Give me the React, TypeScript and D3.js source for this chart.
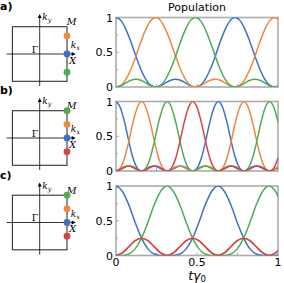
import * as d3 from "d3";

// panel a: three-level transfer
const tA = [0, 0.031, 0.061, 0.092, 0.123, 0.153, 0.184, 0.214, 0.245, 0.276, 0.306, 0.337, 0.368, 0.398, 0.429, 0.459, 0.49, 0.521, 0.551, 0.582, 0.613, 0.643, 0.674, 0.704, 0.735, 0.766, 0.796, 0.827, 0.858, 0.888, 0.919, 0.949, 0.98, 1.011];
const blueA = [1, 0.955, 0.829, 0.648, 0.444, 0.256, 0.111, 0.026, 0, 0.019, 0.06, 0.096, 0.111, 0.096, 0.06, 0.019, 0, 0.026, 0.111, 0.256, 0.444, 0.648, 0.829, 0.955, 1, 0.955, 0.829, 0.648, 0.444, 0.256, 0.111, 0.026, 0, 0.019];
const orangeA = [0, 0.026, 0.111, 0.256, 0.444, 0.648, 0.829, 0.955, 1, 0.955, 0.829, 0.648, 0.444, 0.256, 0.111, 0.026, 0, 0.019, 0.06, 0.096, 0.111, 0.096, 0.06, 0.019, 0, 0.026, 0.111, 0.256, 0.444, 0.648, 0.829, 0.955, 1, 0.955];
const greenA = [0, 0.019, 0.06, 0.096, 0.111, 0.096, 0.06, 0.019, 0, 0.026, 0.111, 0.256, 0.444, 0.648, 0.829, 0.955, 1, 0.955, 0.829, 0.648, 0.444, 0.256, 0.111, 0.026, 0, 0.019, 0.06, 0.096, 0.111, 0.096, 0.06, 0.019, 0, 0.026];

// panel b: four-level cyclic transfer
const tB = [0, 0.026, 0.053, 0.079, 0.105, 0.132, 0.158, 0.184, 0.211, 0.237, 0.263, 0.29, 0.316, 0.342, 0.369, 0.395, 0.421, 0.448, 0.474, 0.5, 0.527, 0.553, 0.579, 0.606, 0.632, 0.658, 0.685, 0.711, 0.737, 0.764, 0.79, 0.816, 0.843, 0.869, 0.895, 0.922, 0.948, 0.974, 1];
const blueB = [1, 0.917, 0.7, 0.427, 0.188, 0.042, 0, 0.025, 0.063, 0.073, 0.05, 0.016, 0, 0.016, 0.05, 0.073, 0.063, 0.025, 0, 0.042, 0.188, 0.427, 0.7, 0.917, 1, 0.917, 0.7, 0.427, 0.188, 0.042, 0, 0.025, 0.063, 0.073, 0.05, 0.016, 0, 0.016, 0.05];
const orangeB = [0, 0.042, 0.188, 0.427, 0.7, 0.917, 1, 0.917, 0.7, 0.427, 0.188, 0.042, 0, 0.025, 0.063, 0.073, 0.05, 0.016, 0, 0.016, 0.05, 0.073, 0.063, 0.025, 0, 0.042, 0.188, 0.427, 0.7, 0.917, 1, 0.917, 0.7, 0.427, 0.188, 0.042, 0, 0.025, 0.063];
const greenB = [0, 0.016, 0.05, 0.073, 0.063, 0.025, 0, 0.042, 0.188, 0.427, 0.7, 0.917, 1, 0.917, 0.7, 0.427, 0.188, 0.042, 0, 0.025, 0.063, 0.073, 0.05, 0.016, 0, 0.016, 0.05, 0.073, 0.063, 0.025, 0, 0.042, 0.188, 0.427, 0.7, 0.917, 1, 0.917, 0.7];
const redB = [0, 0.025, 0.063, 0.073, 0.05, 0.016, 0, 0.016, 0.05, 0.073, 0.063, 0.025, 0, 0.042, 0.188, 0.427, 0.7, 0.917, 1, 0.917, 0.7, 0.427, 0.188, 0.042, 0, 0.025, 0.063, 0.073, 0.05, 0.016, 0, 0.016, 0.05, 0.073, 0.063, 0.025, 0, 0.042, 0.188];

// panel c: blue <-> green with orange/red in between
const tC = [0, 0.039, 0.079, 0.118, 0.158, 0.197, 0.236, 0.276, 0.315, 0.354, 0.394, 0.433, 0.473, 0.512, 0.551, 0.591, 0.63, 0.669, 0.709, 0.748, 0.788, 0.827, 0.866, 0.906, 0.945, 0.984, 1.024];
const blueC = [1, 0.925, 0.729, 0.478, 0.25, 0.095, 0.021, 0.001, 0, 0.001, 0.021, 0.095, 0.25, 0.478, 0.729, 0.925, 1, 0.925, 0.729, 0.478, 0.25, 0.095, 0.021, 0.001, 0, 0.001, 0.021];
const orangeC = [0, 0.037, 0.125, 0.213, 0.25, 0.213, 0.125, 0.037, 0, 0.037, 0.125, 0.213, 0.25, 0.213, 0.125, 0.037, 0, 0.037, 0.125, 0.213, 0.25, 0.213, 0.125, 0.037, 0, 0.037, 0.125];
const greenC = [0, 0.001, 0.021, 0.095, 0.25, 0.478, 0.729, 0.925, 1, 0.925, 0.729, 0.478, 0.25, 0.095, 0.021, 0.001, 0, 0.001, 0.021, 0.095, 0.25, 0.478, 0.729, 0.925, 1, 0.925, 0.729];
const redC = [0, 0.037, 0.125, 0.213, 0.25, 0.213, 0.125, 0.037, 0, 0.037, 0.125, 0.213, 0.25, 0.213, 0.125, 0.037, 0, 0.037, 0.125, 0.213, 0.25, 0.213, 0.125, 0.037, 0, 0.037, 0.125];

// initial-state dots on the zone edge, k_y in units of pi (blue, orange, green, red)
const dotsA = [0, 2 / 3, -2 / 3];
const dotsB = [0, 0.5, 1, -0.5];
const dotsC = [0, 0.5, 1, -0.5];

const panelLabels = ["a)", "b)", "c)"];
const yTicks = [0, 0.5, 1];
const yTickLabels = ["0", "0.5", "1"];
const yMinor = [0.25, 0.75];
const xTicks = [0, 0.5, 1];
const xTickLabels = ["0", "0.5", "1"];
const xInner = [0.25, 0.5, 0.75];

const colors = ["#3d72c2", "#ee8640", "#4fab55", "#d2434a"];
const spine = "#ababab";

const panels = [
  { t: tA, series: [blueA, orangeA, greenA], dots: dotsA, top: 17.5 },
  { t: tB, series: [blueB, orangeB, greenB, redB], dots: dotsB, top: 101.5 },
  { t: tC, series: [blueC, orangeC, greenC, redC], dots: dotsC, top: 186 },
];

const plotH = 69.5;
const x = d3.scaleLinear().domain([0, 1]).range([116, 278]);
const k = d3.scaleLinear().domain([-1, 1]).range([-27.3, 27.3]);

function Zone({ cy, dots }: { cy: number; dots: number[] }) {
  const cx = 39.7;
  const serif = "DejaVu Serif";
  return (
    <g>
      <rect x={cx + k(-1)} y={cy + k(-1)} width={k(1) - k(-1)} height={k(1) - k(-1)} fill="none" stroke="#333" strokeWidth={1.1} />
      <line x1={cx - 33} x2={cx + 33} y1={cy} y2={cy} stroke="#000" strokeWidth={0.8} />
      <path d={`M${cx + 36},${cy} l-4,-2 l0,4 z`} fill="#000" />
      <line x1={cx} x2={cx} y1={cy + 32} y2={cy - 37} stroke="#000" strokeWidth={0.8} />
      <path d={`M${cx},${cy - 40} l-2,4 l4,0 z`} fill="#000" />
      <text x={cx + 2.5} y={cy - 34} fontFamily={serif} fontStyle="italic" fontSize={9}>
        k<tspan fontSize={6.5} dy={2}>y</tspan>
      </text>
      <text x={cx + 27} y={cy - 29} fontFamily={serif} fontStyle="italic" fontSize={9.5}>M</text>
      <text x={cx + 31} y={cy - 6} fontFamily={serif} fontStyle="italic" fontSize={9}>
        k<tspan fontSize={6.5} dy={2}>x</tspan>
      </text>
      <text x={cx + 29.5} y={cy + 9.5} fontFamily={serif} fontStyle="italic" fontSize={9.5}>X</text>
      <text x={cx - 8} y={cy - 1.5} fontFamily={serif} fontSize={9.5}>Γ</text>
      {dots.map((d, i) => (
        <circle key={i} cx={cx + k(1)} cy={cy - k(d)} r={3.4} fill={colors[i]} />
      ))}
    </g>
  );
}

export default function App() {
  const sans = "DejaVu Sans";
  return (
    <svg width={284} height={283} style={{ position: "absolute", left: 0, top: 0 }} fontFamily={sans}>
      <rect width={284} height={283} fill="#fff" />
      <text x={197} y={11} textAnchor="middle" fontSize={11}>Population</text>
      {panels.map((p, pi) => {
        const y = d3.scaleLinear().domain([0, 1]).range([p.top + plotH, p.top]);
        const line = (vals: number[]) =>
          d3
            .line<number>()
            .x((_, i) => x(p.t[i]))
            .y((d) => y(d))
            .curve(d3.curveMonotoneX)(vals) ?? "";
        const clipId = `clip-${pi}`;
        return (
          <g key={pi}>
            <text x={0} y={p.top - 7.5} fontSize={11} fontWeight="bold">{panelLabels[pi]}</text>
            <Zone cy={p.top + 36.5} dots={p.dots} />
            <clipPath id={clipId}>
              <rect x={x(0)} y={p.top} width={x(1) - x(0)} height={plotH} />
            </clipPath>
            <rect x={x(0)} y={p.top} width={x(1) - x(0)} height={plotH} fill="none" stroke={spine} strokeWidth={1.6} />
            {yTicks.map((v, i) => (
              <g key={v}>
                <line x1={x(0)} x2={x(0) + 3} y1={y(v)} y2={y(v)} stroke={spine} />
                <text x={x(0) - 3} y={y(v) + 4} textAnchor="end" fontSize={11}>{yTickLabels[i]}</text>
              </g>
            ))}
            {yMinor.map((v) => (
              <line key={v} x1={x(0)} x2={x(0) + 2} y1={y(v)} y2={y(v)} stroke={spine} />
            ))}
            {xInner.map((v) => (
              <line key={v} x1={x(v)} x2={x(v)} y1={y(0)} y2={y(0) - 3} stroke={spine} />
            ))}
            <g clipPath={`url(#${clipId})`}>
              {p.series.map((s, si) => (
                <path key={si} d={line(s)} fill="none" stroke={colors[si]} strokeWidth={1.5} />
              ))}
            </g>
          </g>
        );
      })}
      {xTicks.map((v, i) => (
        <text key={v} x={x(v)} y={265.5} textAnchor="middle" fontSize={11}>{xTickLabels[i]}</text>
      ))}
      <text x={197} y={280} textAnchor="middle" fontSize={12.5}>
        <tspan fontStyle="italic">tγ</tspan>
        <tspan fontSize={8.5} dy={2}>0</tspan>
      </text>
    </svg>
  );
}
